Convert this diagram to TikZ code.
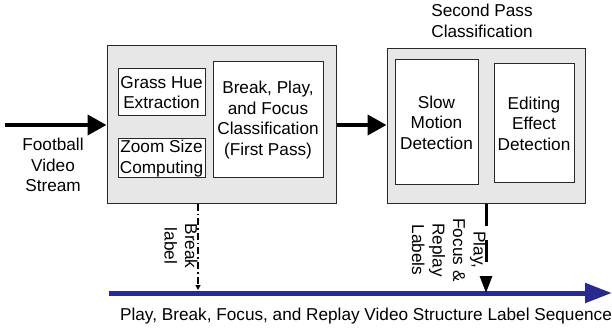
\documentclass[tikz,border=0pt]{standalone}
\usepackage{fontspec}
\setmainfont{Liberation Sans}
\usepackage{tikz}
\usetikzlibrary{arrows.meta,positioning,calc}
\usepackage{xcolor}
\definecolor{panelgrey}{RGB}{231,231,231}
\definecolor{seqblue}{RGB}{42,42,142}
\definecolor{edgedark}{RGB}{40,40,40}

\begin{document}
\begin{tikzpicture}[
    x=1pt, y=-1pt,
    every node/.style={font=\fontsize{17.2}{20.5}\selectfont, align=center},
    panel/.style={draw=edgedark, fill=panelgrey, line width=1pt, inner sep=0pt},
    unit/.style={draw=edgedark, fill=white, line width=1pt, inner sep=1pt},
    flow/.style={line width=4pt, -{Triangle[length=19pt,width=20pt]}},
    lbl/.style={rotate=-90, inner sep=0pt}
]
\useasboundingbox (0,0) rectangle (612,328);

%, First pass block ---
\node[panel, minimum width=229pt, minimum height=158pt] (first) at (221.5,125) {};
\node[unit, minimum width=87pt, minimum height=47pt] (grass) at (161.5,92.5) {Grass Hue\\Extraction};
\node[unit, minimum width=87pt, minimum height=39pt] (zoom) at (161.5,158.5) {Zoom Size\\Computing};
\node[unit, minimum width=110pt, minimum height=116pt] (bpf) at (268,120) {Break, Play,\\and Focus\\Classification\\(First Pass)};

%, Second pass block ---
\node[panel, minimum width=198pt, minimum height=155pt] (second) at (486,126.5) {};
\node[unit, minimum width=83pt, minimum height=125pt] (slow) at (436.5,122.5) {Slow\\Motion\\Detection};
\node[unit, minimum width=80pt, minimum height=119pt] (edit) at (534,123.5) {Editing\\Effect\\Detection};
\node (sptitle) at (482,21) {Second Pass\\Classification};

%, Input ---
\coordinate (src) at (5,125);
\node (input) at (53,165) {Football\\Video\\Stream};
\draw[flow] (src) -- (src -| first.west);
\draw[flow] (first.east) -- (first.east -| second.west);

%, Label sequence ---
\coordinate (seqL) at (109,293);
\coordinate (seqR) at (612,293);
\draw[seqblue, line width=5pt, -{Triangle[length=27pt,width=19pt]}] (seqL) -- (seqR);
\node (seqtext) at (366,316) {Play, Break, Focus, and Replay Video Structure Label Sequence};

% Arrows down to the sequence
\coordinate (brkT) at (198,204);
\coordinate (brkB) at (198,290);
\draw[line width=1.5pt, dash pattern=on 7pt off 3pt on 1.5pt off 3pt,
      -{Triangle[length=5pt,width=5pt]}] (brkT) -- (brkB);
\node[lbl] (brklbl) at (181,246) {Break\\label};

\coordinate (pfrT) at (second.south);
\coordinate (pfrB) at (486,293);
\draw[line width=3pt, dash pattern=on 22pt off 14pt,
      -{Triangle[length=17pt,width=12pt]}] (pfrT) -- (pfrB);
\node[lbl] (pfrlbl) at (449,250) {Play,\\Focus \&\\Replay\\Labels};
\end{tikzpicture}
\end{document}
